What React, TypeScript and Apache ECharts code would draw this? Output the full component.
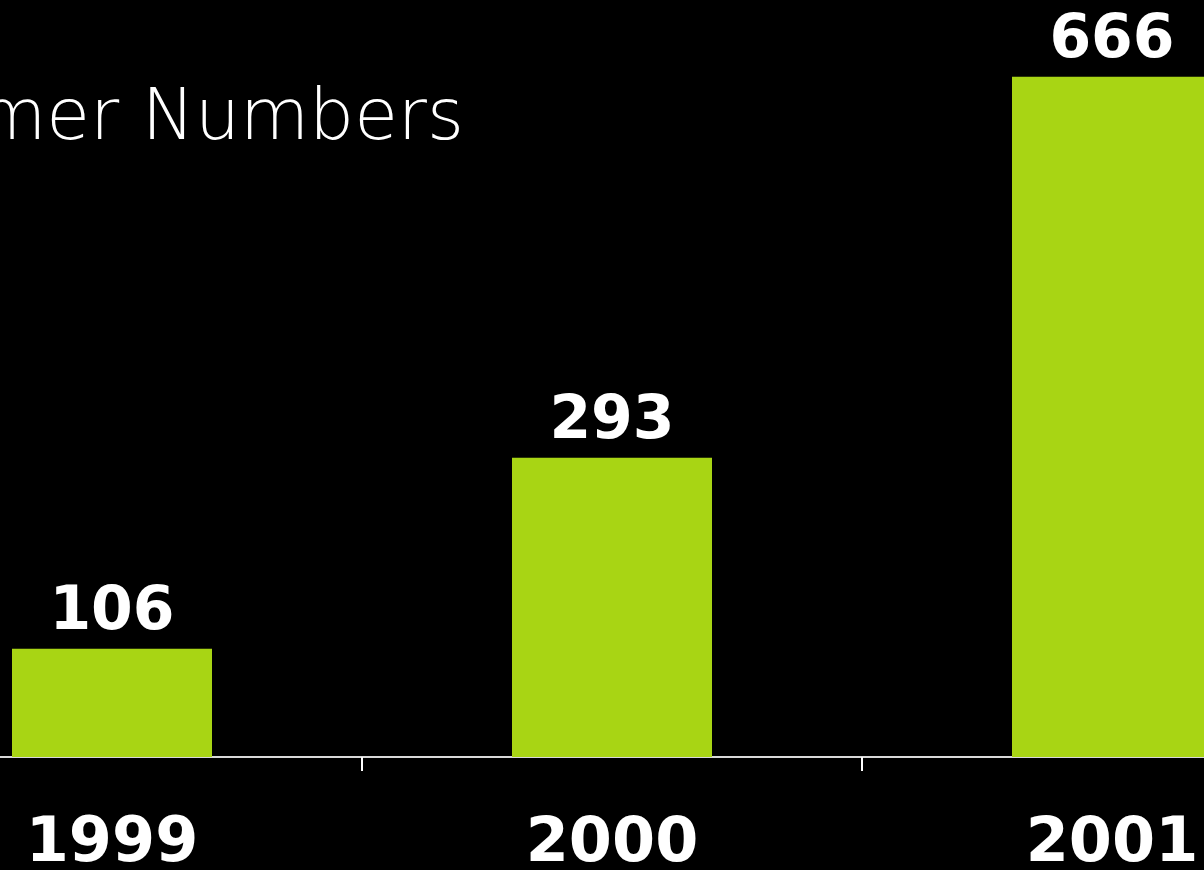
import React, { useEffect, useRef } from "react";
import * as echarts from "echarts";

const categories = ["1999", "2000", "2001"];
const values = [106, 293, 666];
const titleText = "Customer Numbers";

export default function App() {
  const ref = useRef<HTMLDivElement>(null);
  useEffect(() => {
    document.body.style.margin = "0";
    document.body.style.background = "#000";
    const chart = echarts.init(ref.current!, undefined, { renderer: "svg" });
    chart.setOption({
      animation: false,
      backgroundColor: "#000",
      graphic: [
        {
          type: "text",
          style: {
            text: titleText,
            x: 764,
            y: 150,
            align: "right",
            verticalAlign: "bottom",
            fill: "#fff",
            font: "200 71px 'DejaVu Sans', sans-serif",
          },
        },
      ],
      grid: { left: 162, right: 138, top: 42, bottom: 112 },
      xAxis: {
        type: "category",
        data: categories,
        axisLine: { lineStyle: { color: "#d8d8d8", width: 2 } },
        axisTick: { show: true, length: 14, lineStyle: { color: "#fff", width: 2 } },
        axisLabel: {
          color: "#fff",
          fontSize: 62,
          fontWeight: "bold",
          fontFamily: "'DejaVu Sans', sans-serif",
          margin: 51,
        },
      },
      yAxis: {
        type: "value",
        min: 0,
        max: 700,
        show: false,
        splitLine: { show: false },
      },
      series: [
        {
          type: "bar",
          data: values,
          barWidth: 200,
          itemStyle: { color: "#A8D514" },
          label: {
            show: true,
            position: "top",
            distance: 11,
            color: "#fff",
            fontSize: 60,
            fontWeight: "bold",
            fontFamily: "'DejaVu Sans', sans-serif",
          },
        },
      ],
    });
    return () => chart.dispose();
  }, []);
  return (
    <div style={{ position: "fixed", left: 0, top: 0, width: 1204, height: 870, overflow: "hidden", background: "#000" }}>
      <div ref={ref} style={{ position: "absolute", left: -300, top: 0, width: 1800, height: 870 }} />
    </div>
  );
}
